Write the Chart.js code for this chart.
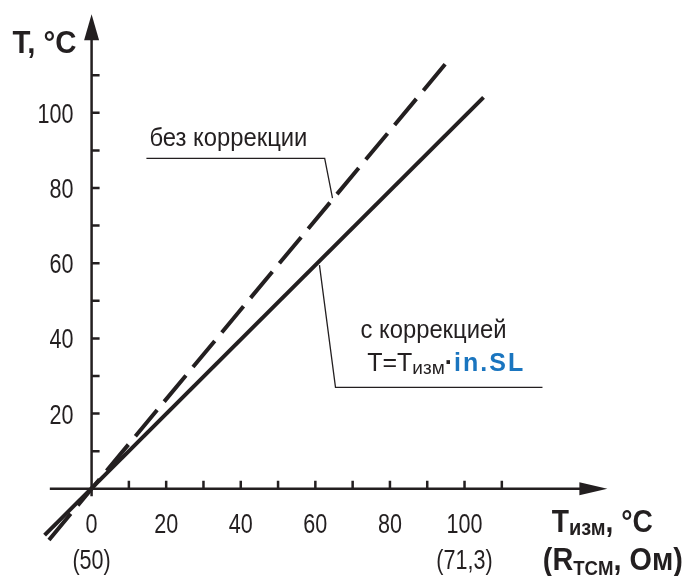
<!DOCTYPE html>
<html>
<head>
<meta charset="utf-8">
<script src="https://cdn.jsdelivr.net/npm/chart.js"></script>
<style>
  html, body { margin: 0; padding: 0; background: #fff; }
  #chart { display: block; }
</style>
</head>
<body>
<canvas id="chart" width="688" height="576"></canvas>
<script>
// lines (x = T изм, y = T)
var solidX = [-12.6, 105.1];
var solidY = [-12.3, 104.1];
var dashX = [94.8, -12.1];
var dashY = [112.9, -14.4];

// leader lines of the two notes
var note1X = [14.7, 62.5, 64.6];
var note1Y = [87.9, 87.9, 77.3];
var note2X = [61.1, 65.4, 120.9];
var note2Y = [59.5, 27.0, 27.0];

// axes
var yLabels = [20, 40, 60, 80, 100];
var yMarks = [10, 20, 30, 40, 50, 60, 70, 80, 90, 100, 110];
var xLabels = [0, 20, 40, 60, 80, 100];
var xMarks = [10, 20, 30, 40, 50, 60, 70, 80, 90, 100, 110];
var xSubValues = [0, 100];
var xSubTexts = ['(50)', '(71,3)'];

var INK = '#231f20';
var BLUE = '#1a75bf';

function pts(xs, ys) {
    return xs.map(function (x, i) { return { x: x, y: ys[i] }; });
}

// draws a run of text pieces: [text, font, dy, colour, letterSpacing]
// if width is given the whole run is squeezed to it
function run(ctx, parts, x, y, sx, width, align) {
    function wid(p) {
        ctx.font = p[1];
        ctx.letterSpacing = p[4] || '0px';
        return ctx.measureText(p[0]).width;
    }
    var total = 0;
    parts.forEach(function (p) { total += wid(p); });
    if (width) sx = width / total;
    var w = total * sx;
    var cx = align === 'right' ? x - w : (align === 'center' ? x - w / 2 : x);
    parts.forEach(function (p) {
        var pw = wid(p);
        ctx.fillStyle = p[3] || INK;
        ctx.save();
        ctx.translate(cx, y + (p[2] || 0));
        ctx.scale(sx, 1);
        ctx.fillText(p[0], 0, 0);
        ctx.restore();
        cx += pw * sx;
    });
    ctx.letterSpacing = '0px';
}

var FONT = '"Liberation Sans", Arial, sans-serif';

var axesPlugin = {
    id: 'axes',
    beforeDatasetsDraw: function (chart) {
        var ctx = chart.ctx;
        var xs = chart.scales.x, ys = chart.scales.y;
        var ox = xs.getPixelForValue(0), oy = ys.getPixelForValue(0);
        ctx.save();
        ctx.strokeStyle = INK;
        ctx.fillStyle = INK;
        ctx.lineWidth = 2.5;

        // y axis
        var yTip = ys.getPixelForValue(126.2);
        ctx.beginPath();
        ctx.moveTo(ox, ys.getPixelForValue(-2));
        ctx.lineTo(ox, yTip + 24);
        ctx.stroke();
        ctx.beginPath();
        ctx.moveTo(ox, yTip);
        ctx.lineTo(ox - 7.5, yTip + 26);
        ctx.lineTo(ox + 7.5, yTip + 26);
        ctx.closePath();
        ctx.fill();

        // x axis
        var xTip = xs.getPixelForValue(138.3);
        ctx.beginPath();
        ctx.moveTo(xs.getPixelForValue(-11.2), oy);
        ctx.lineTo(xTip - 26, oy);
        ctx.stroke();
        ctx.beginPath();
        ctx.moveTo(xTip, oy);
        ctx.lineTo(xTip - 28, oy - 6.5);
        ctx.lineTo(xTip - 28, oy + 6.5);
        ctx.closePath();
        ctx.fill();

        // tick marks (inside)
        ctx.beginPath();
        yMarks.forEach(function (v) {
            var py = ys.getPixelForValue(v);
            ctx.moveTo(ox, py);
            ctx.lineTo(ox + 8, py);
        });
        xMarks.forEach(function (v) {
            var px = xs.getPixelForValue(v);
            ctx.moveTo(px, oy);
            ctx.lineTo(px, oy - 8);
        });
        ctx.stroke();

        // tick labels
        ctx.textBaseline = 'alphabetic';
        var tickFont = '28px ' + FONT;
        yLabels.forEach(function (v) {
            run(ctx, [[String(v), tickFont]], ox - 18, ys.getPixelForValue(v) + 10, 0.77, null, 'right');
        });
        xLabels.forEach(function (v) {
            run(ctx, [[String(v), tickFont]], xs.getPixelForValue(v), oy + 44.5, 0.77, null, 'center');
        });
        xSubValues.forEach(function (v, i) {
            run(ctx, [[xSubTexts[i], tickFont]], xs.getPixelForValue(v), oy + 80.5, 0.77, null, 'center');
        });

        // axis titles
        var bold = 'bold 31px ' + FONT;
        run(ctx, [['T, °C', bold]], ox - 15, 53, 1, 64, 'right');
        var tx = xs.getPixelForValue(123.4);
        run(ctx, [['T', bold], ['изм', 'bold 22px ' + FONT, 3], [', °C', bold]], tx, oy + 43, 1, 101);
        run(ctx, [['(R', bold], ['TCM', 'bold 20px ' + FONT, 5], [', Ом)', bold]], tx - 9, oy + 81, 1, 140);
        ctx.restore();
    },
    afterDatasetsDraw: function (chart) {
        var ctx = chart.ctx;
        var xs = chart.scales.x, ys = chart.scales.y;
        ctx.save();
        ctx.textBaseline = 'alphabetic';
        var reg = '25px ' + FONT;
        run(ctx, [['без коррекции', reg]], xs.getPixelForValue(15.5), ys.getPixelForValue(91.1), 1, 158);
        run(ctx, [['с коррекцией', reg]], xs.getPixelForValue(72.1), ys.getPixelForValue(40.1), 1, 146);
        run(ctx, [
            ['T=T', reg],
            ['изм', '19px ' + FONT, 3],
            ['·', 'bold 25px ' + FONT, 0, INK, '1px'],
            ['in.SL', 'bold 25px ' + FONT, 0, BLUE, '2px']
        ], xs.getPixelForValue(73.9), ys.getPixelForValue(31.2), 1, null);
        ctx.restore();
    }
};

document.addEventListener('DOMContentLoaded', function () {
    var ctx = document.getElementById('chart').getContext('2d');
    var chart = new Chart(ctx, {
        type: 'scatter',
        data: {
            datasets: [{
                label: 'с коррекцией',
                data: pts(solidX, solidY),
                borderColor: INK,
                borderWidth: 4,
                showLine: true,
                pointRadius: 0
            }, {
                label: 'без коррекции',
                data: pts(dashX, dashY),
                borderColor: INK,
                borderWidth: 4,
                borderDash: [34, 11],
                showLine: true,
                pointRadius: 0
            }, {
                label: 'note1',
                data: pts(note1X, note1Y),
                borderColor: INK,
                borderWidth: 1.3,
                showLine: true,
                pointRadius: 0
            }, {
                label: 'note2',
                data: pts(note2X, note2Y),
                borderColor: INK,
                borderWidth: 1.3,
                showLine: true,
                pointRadius: 0
            }]
        },
        options: {
            responsive: false,
            animation: false,
            layout: { padding: { left: 17, right: 37, top: 0, bottom: 12 } },
            plugins: {
                legend: { display: false },
                tooltip: { enabled: false }
            },
            scales: {
                x: { type: 'linear', min: -20, max: 150, display: false },
                y: { type: 'linear', min: -20, max: 130, display: false }
            }
        },
        plugins: [axesPlugin]
    });
});
</script>
</body>
</html>
